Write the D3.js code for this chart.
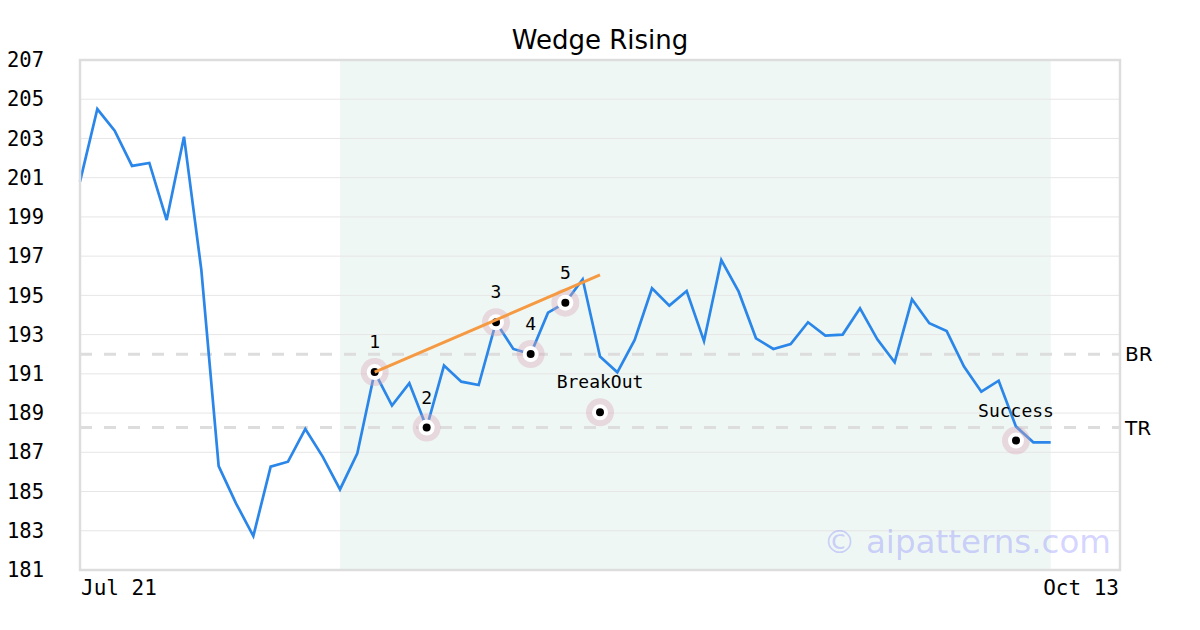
<!DOCTYPE html>
<html><head><meta charset="utf-8">
<script src="https://cdn.jsdelivr.net/npm/d3@7"></script>
<style>body{margin:0;background:#fff}svg{display:block}</style>
</head><body>
<svg id="c" width="1200" height="630"></svg>
<script>
const title = "Wedge Rising";
const xTickLabels = ["Jul 21", "Oct 13"];
const xSlots = 60;
const prices = [200.8,204.5,203.4,201.6,201.75,198.84,203.09,196.3,186.3,184.4,
  182.73,186.27,186.52,188.19,186.78,185.11,186.95,191.09,189.38,190.52,
  188.26,191.42,190.6,190.43,193.63,192.27,192.01,194.12,194.63,195.82,
  191.88,191.08,192.73,195.36,194.48,195.22,192.67,196.8,195.19,192.81,
  192.27,192.52,193.63,192.95,193.0,194.34,192.76,191.59,194.8,193.58,
  193.18,191.37,190.09,190.65,188.31,187.51,187.51];
const yTicks = [181,183,185,187,189,191,193,195,197,199,201,203,205,207];
const patternRange = [15, 56];
const points = [
  {i:17, v:191.09, label:"1"},
  {i:20, v:188.26, label:"2"},
  {i:24, v:193.63, label:"3"},
  {i:26, v:192.01, label:"4"},
  {i:28, v:194.63, label:"5"},
  {i:30, v:189.04, label:"BreakOut"},
  {i:54, v:187.6, label:"Success"}
];
const trendLine = [{i:17, v:191.09},{i:30, v:196.04}];
const levels = [{name:"BR", v:192.0},{name:"TR", v:188.26}];
const watermark = "© aipatterns.com";

const svg = d3.select("#c");
const L=80, R=1120, T=60, B=570;
const x = d3.scaleLinear().domain([0, xSlots]).range([L, R]);
const y = d3.scaleLinear().domain([181, 207]).range([B, T]);
const mono = "'DejaVu Sans Mono', monospace";
const sans = "'DejaVu Sans', sans-serif";

// shaded pattern region
svg.append("rect").attr("x", x(patternRange[0])).attr("y", T)
  .attr("width", x(patternRange[1]) - x(patternRange[0])).attr("height", B - T)
  .attr("fill", "#eff7f4");

// grid
svg.append("g").selectAll("line").data(yTicks).join("line")
  .attr("x1", L).attr("x2", R).attr("y1", d => y(d)).attr("y2", d => y(d))
  .attr("stroke", "#e6e6e6").attr("stroke-width", 1);

// level lines
svg.append("g").selectAll("line").data(levels).join("line")
  .attr("x1", L).attr("x2", R).attr("y1", d => y(d.v)).attr("y2", d => y(d.v))
  .attr("stroke", "#dddddd").attr("stroke-width", 3).attr("stroke-dasharray", "12,12");
svg.append("g").selectAll("text").data(levels).join("text")
  .attr("x", R + 5).attr("y", d => y(d.v)).attr("dy", "0.35em")
  .attr("font-family", sans).attr("font-size", 20).attr("fill", "#000")
  .text(d => d.name);

// watermark
svg.append("text").attr("x", 1111).attr("y", 553).attr("text-anchor", "end")
  .attr("font-family", sans).attr("font-size", 32.5).attr("fill", "#6b6bff").attr("fill-opacity", 0.3)
  .text(watermark);

// price line
svg.append("path").datum(prices)
  .attr("d", d3.line().x((d, i) => x(i)).y(d => y(d)))
  .attr("fill", "none").attr("stroke", "#2a86e8").attr("stroke-width", 2.7)
  .attr("stroke-linejoin", "miter");

// markers
const mk = svg.append("g").selectAll("g").data(points).join("g")
  .attr("transform", d => `translate(${x(d.i)},${y(d.v)})`);
mk.append("circle").attr("r", 14).attr("fill", "#d7a6b6").attr("fill-opacity", 0.38);
mk.append("circle").attr("r", 8).attr("fill", "#fff");

// trend line
svg.append("path").datum(trendLine)
  .attr("d", d3.line().x(d => x(d.i)).y(d => y(d.v)))
  .attr("stroke", "#f59a42").attr("stroke-width", 3).attr("fill", "none");

mk.append("circle").attr("r", 4).attr("fill", "#000");
mk.append("text").attr("y", -24).attr("text-anchor", "middle")
  .attr("font-family", mono).attr("font-size", 18).attr("fill", "#000")
  .text(d => d.label);

// frame
svg.append("rect").attr("x", L).attr("y", T).attr("width", R - L).attr("height", B - T)
  .attr("fill", "none").attr("stroke", "#dddddd").attr("stroke-width", 2.5);

// y axis labels
svg.append("g").selectAll("text").data(yTicks).join("text")
  .attr("x", 44).attr("y", d => y(d)).attr("dy", "0.35em").attr("text-anchor", "end")
  .attr("font-family", mono).attr("font-size", 20.5).attr("fill", "#000")
  .text(d => d);

// x axis labels
svg.append("text").attr("x", x(0) + 1).attr("y", 595).attr("text-anchor", "start")
  .attr("font-family", mono).attr("font-size", 21).attr("fill", "#000").text(xTickLabels[0]);
svg.append("text").attr("x", x(xSlots) - 1).attr("y", 595).attr("text-anchor", "end")
  .attr("font-family", mono).attr("font-size", 21).attr("fill", "#000").text(xTickLabels[1]);

// title
svg.append("text").attr("x", 600).attr("y", 49).attr("text-anchor", "middle")
  .attr("font-family", sans).attr("font-size", 26).attr("fill", "#000").text(title);
</script>
</body></html>
